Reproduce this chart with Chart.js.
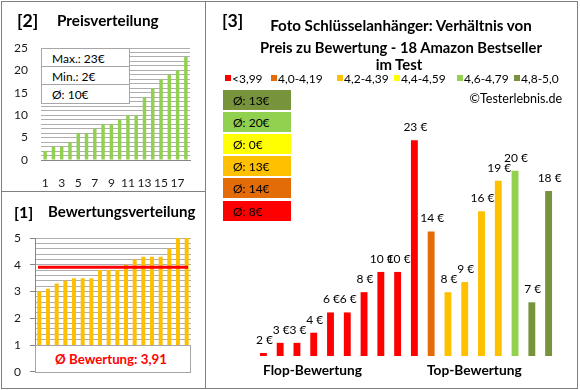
<!DOCTYPE html>
<html>
<head>
<meta charset="utf-8">
<script src="https://cdn.jsdelivr.net/npm/chart.js@4.4.0/dist/chart.umd.min.js"></script>
<style>
  body { margin: 0; background: #fff; }
  #page { position: relative; width: 580px; height: 390px; overflow: hidden;
          font-family: Lato, "Open Sans", sans-serif; color: #000; }
  #page canvas { position: absolute; }
  .line { position: absolute; background: #808080; }
  .cell { position: absolute; box-sizing: border-box; background: #fff; border: 1px solid #a6a6a6; }
  .lbl { position: absolute; white-space: nowrap; line-height: 1; }
</style>
</head>
<body>
<div id="page">
  <canvas id="price" width="205" height="191" style="left:0;top:0"></canvas>
  <canvas id="rating" width="205" height="196" style="left:0;top:192px"></canvas>
  <canvas id="seller" width="372" height="388" style="left:206px;top:0"></canvas>

  <!-- panel frames -->
  <div class="line" style="left:1px;top:1px;width:577px;height:1px"></div>
  <div class="line" style="left:1px;top:388px;width:577px;height:1px"></div>
  <div class="line" style="left:1px;top:1px;width:1px;height:388px"></div>
  <div class="line" style="left:577px;top:1px;width:1px;height:388px"></div>
  <div class="line" style="left:205px;top:1px;width:1px;height:388px"></div>
  <div class="line" style="left:1px;top:191px;width:205px;height:1px"></div>
</div>
<script>
// data
const productLabels = ['1', '2', '3', '4', '5', '6', '7', '8', '9', '10', '11', '12', '13', '14', '15', '16', '17', '18'];
const priceValues = [2, 3, 3, 4, 6, 6, 7, 8, 8, 9, 10, 10, 14, 16, 18, 19, 20, 23];
const ratingValues = [3.0, 3.1, 3.3, 3.4, 3.5, 3.5, 3.5, 3.8, 3.8, 3.8, 4.0, 4.2, 4.3, 4.3, 4.3, 4.6, 5.0, 5.0];
// prices of the same products, sorted by rating
const sellerPrices = [2, 3, 3, 4, 6, 6, 8, 10, 10, 23, 14, 8, 9, 16, 19, 20, 7, 18];
const classNames = ['<3,99', '4,0-4,19', '4,2-4,39', '4,4-4,59', '4,6-4,79', '4,8-5,0'];
const classUpper = [4.0, 4.2, 4.4, 4.6, 4.8, Infinity];

const classColors = ['#FF0000', '#E36C09', '#FFC000', '#FFFF00', '#92D050', '#77933C'];
const fontFamily = 'Lato, "Open Sans", sans-serif';
Chart.defaults.font.family = fontFamily;

const page = document.getElementById('page');

function classOf(r) {
  return classUpper.findIndex(u => r < u);
}

function label(text, x, y, opts = {}) {
  const el = document.createElement('div');
  el.className = 'lbl';
  el.textContent = text;
  const size = opts.size || 12;
  el.style.fontSize = size + 'px';
  if (opts.bold) el.style.fontWeight = 'bold';
  if (opts.color) el.style.color = opts.color;
  const tx = opts.align === 'center' ? '-50%' : opts.align === 'right' ? '-100%' : '0';
  el.style.left = x + 'px';
  el.style.top = y + 'px';
  el.style.transform = `translate(${tx}, -50%)`;
  page.appendChild(el);
  // scale font so the text spans the width seen in the picture
  if (opts.width) el.style.fontSize = (size * opts.width / el.offsetWidth) + 'px';
  return el;
}

function box(x, y, w, h, color) {
  const el = document.createElement('div');
  el.className = 'cell';
  Object.assign(el.style, { left: x + 'px', top: y + 'px', width: w + 'px', height: h + 'px' });
  if (color) { el.style.background = color; el.style.border = 'none'; }
  page.appendChild(el);
  return el;
}

// derived numbers
const avgPrice = priceValues.reduce((a, b) => a + b, 0) / priceValues.length;
const avgRating = ratingValues.reduce((a, b) => a + b, 0) / ratingValues.length;
const classAvg = classNames.map((_, c) => {
  const p = sellerPrices.filter((_, i) => classOf(ratingValues[i]) === c);
  return p.length ? Math.round(p.reduce((a, b) => a + b, 0) / p.length) : 0;
});

// [2] Preisverteilung
new Chart(document.getElementById('price'), {
  type: 'bar',
  data: {
    labels: productLabels,
    datasets: [{ data: priceValues, backgroundColor: '#92D050', barPercentage: 0.42, categoryPercentage: 1 }]
  },
  options: {
    responsive: false,
    animation: false,
    layout: { padding: { top: 48, right: 15, left: 0, bottom: 0 } },
    plugins: { legend: { display: false }, tooltip: { enabled: false } },
    scales: {
      x: {
        grid: { display: false },
        border: { color: '#868686' },
        ticks: {
          autoSkip: false, maxRotation: 0, padding: 8, color: '#1a1a1a', font: { size: 12 },
          callback: (v, i) => (i % 2 === 0 ? productLabels[i] : '')
        },
        afterFit: s => { s.height = 31; }
      },
      y: {
        min: 0, max: 25,
        grid: { color: '#aeaeae', drawTicks: false },
        border: { display: false },
        ticks: {
          stepSize: 1, autoSkip: false, padding: 13, color: '#1a1a1a', font: { size: 12 },
          callback: v => (v % 5 === 0 ? v : '')
        },
        afterFit: s => { s.width = 41; }
      }
    }
  }
});

// [1] Bewertungsverteilung
const averageLine = {
  id: 'averageLine',
  afterDatasetsDraw(chart) {
    const { ctx, chartArea, scales } = chart;
    const y = scales.y.getPixelForValue(avgRating);
    ctx.save();
    ctx.strokeStyle = '#FF0000';
    ctx.lineWidth = 3;
    ctx.beginPath();
    ctx.moveTo(chartArea.left + 3, y);
    ctx.lineTo(chartArea.right - 3, y);
    ctx.stroke();
    ctx.restore();
  }
};

const isWhole = v => Math.abs(v - Math.round(v)) < 1e-6;

new Chart(document.getElementById('rating'), {
  type: 'bar',
  data: {
    labels: productLabels,
    datasets: [{ data: ratingValues, backgroundColor: '#FFC000', barPercentage: 0.46, categoryPercentage: 1 }]
  },
  options: {
    responsive: false,
    animation: false,
    layout: { padding: { top: 46, right: 14, left: 0, bottom: 15 } },
    plugins: { legend: { display: false }, tooltip: { enabled: false } },
    scales: {
      x: { display: false },
      y: {
        min: 0, max: 5,
        grid: {
          color: '#aeaeae', tickLength: 5,
          tickColor: c => (isWhole(c.tick.value) ? '#868686' : 'rgba(0,0,0,0)')
        },
        border: { color: '#868686' },
        ticks: {
          stepSize: 0.2, autoSkip: false, padding: 9, color: '#1a1a1a', font: { size: 12 },
          callback: v => (isWhole(v) ? Math.round(v) : '')
        },
        afterFit: s => { s.width = 35; }
      }
    }
  },
  plugins: [averageLine]
});

// [3] Preis zu Bewertung
const valueLabels = {
  id: 'valueLabels',
  afterDatasetsDraw(chart) {
    const { ctx } = chart;
    ctx.save();
    ctx.font = '12px ' + fontFamily;
    ctx.fillStyle = '#000';
    ctx.textAlign = 'center';
    ctx.textBaseline = 'middle';
    chart.getDatasetMeta(0).data.forEach((bar, i) => {
      ctx.fillText(sellerPrices[i] + ' €', bar.x + 1, bar.y - 13);
    });
    ctx.restore();
  }
};

new Chart(document.getElementById('seller'), {
  type: 'bar',
  data: {
    labels: productLabels,
    datasets: [{
      data: sellerPrices,
      backgroundColor: ratingValues.map(r => classColors[classOf(r)]),
      barPercentage: 0.41, categoryPercentage: 1
    }]
  },
  options: {
    responsive: false,
    animation: false,
    layout: { padding: { top: 120, right: 21, left: 49, bottom: 32 } },
    plugins: { legend: { display: false }, tooltip: { enabled: false } },
    scales: {
      x: { display: false },
      y: { display: false, min: 1.7, max: 25 }
    }
  },
  plugins: [valueLabels]
});

// overlays: boxes and texts
[['Max.: ' + Math.max(...priceValues) + '€', 48, 19],
 ['Min.: ' + Math.min(...priceValues) + '€', 66, 19],
 ['Ø: ' + Math.round(avgPrice) + '€', 84, 19]].forEach(([t, y, h]) => {
  box(41, y, 89, h + 1);
  label(t, 52, y + h / 2 + 1, { size: 12 });
});

box(35, 345, 156, 28);
label('Ø Bewertung: ' + avgRating.toFixed(2).replace('.', ','), 111, 360,
  { bold: true, color: '#FF0000', align: 'center', width: 112, size: 14 });

label('[2]', 17, 21, { bold: true, width: 21, size: 16 });
label('Preisverteilung', 57, 21, { bold: true, width: 102, size: 13 });
label('[1]', 14, 212, { bold: true, width: 19, size: 16 });
label('Bewertungsverteilung', 48, 212, { bold: true, width: 148, size: 13 });
label('[3]', 222, 21, { bold: true, width: 21, size: 16 });

label('Foto Schlüsselanhänger: Verhältnis von', 401, 26, { bold: true, align: 'center', width: 262, size: 14 });
label('Preis zu Bewertung - 18 Amazon Bestseller', 401, 46.5, { bold: true, align: 'center', width: 282, size: 14 });
label('im Test', 399, 64, { bold: true, align: 'center', width: 47, size: 14 });

const legendX = [225, 271, 337, 394, 457, 514];
classNames.forEach((n, c) => {
  box(legendX[c], 75, 6, 6, classColors[c]);
  label(n, legendX[c] + 7, 78.5, { size: 12 });
});

label('©Testerlebnis.de', 562, 98.5, { align: 'right', width: 93, size: 12 });

// class averages, best class on top
for (let k = 0; k < classNames.length; k++) {
  const c = classNames.length - 1 - k;
  const top = Math.round(90 + k * 22.1);
  box(223, top, 68, 20, classColors[c]);
  label('Ø: ' + classAvg[c] + '€', 233, top + 10.5, { size: 12 });
}

label('Flop-Bewertung', 263, 369.5, { bold: true, width: 99, size: 13 });
label('Top-Bewertung', 427, 369.5, { bold: true, width: 95, size: 13 });
</script>
</body>
</html>
